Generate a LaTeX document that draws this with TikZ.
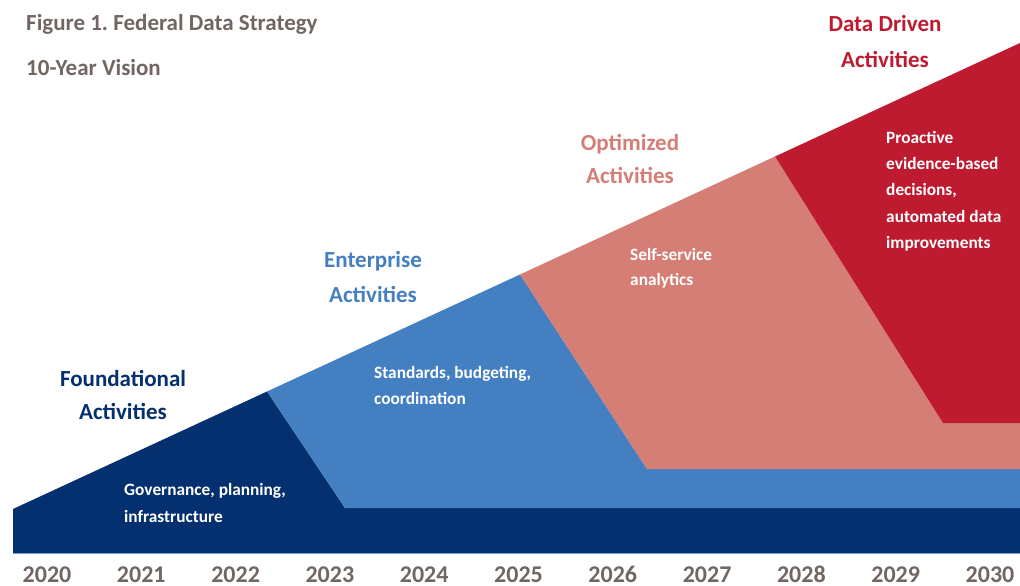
\documentclass[tikz,border=0pt]{standalone}
\usepackage{fontspec}
\setmainfont{Carlito}
\frenchspacing
\definecolor{navy}{HTML}{05306F}
\definecolor{midblue}{HTML}{4480C1}
\definecolor{salmon}{HTML}{D57E75}
\definecolor{crimson}{HTML}{BE1A30}
\definecolor{greytext}{HTML}{716661}
\definecolor{edgeblue}{HTML}{7E9CC8}
\tikzset{
  band/.style={draw=none},
  heading/.style={font=\fontsize{23}{23}\selectfont\bfseries, anchor=base, inner sep=0pt},
  body/.style={font=\fontsize{17.3}{17.3}\selectfont\bfseries, text=white, anchor=base west, inner sep=0pt},
  year/.style={font=\fontsize{24}{24}\selectfont\bfseries, text=greytext, anchor=base, inner sep=0pt},
  title/.style={font=\fontsize{23}{23}\selectfont\bfseries, text=greytext, anchor=base west, inner sep=0pt}
}
\begin{document}
\begin{tikzpicture}[x=1pt,y=-1pt]
\useasboundingbox (0,0) rectangle (1020,586);
\fill[white] (0,0) rectangle (1020,586);
% key points
\coordinate (A) at (13,509);
\coordinate (P1) at (267,391.5);
\coordinate (P2) at (520,274.5);
\coordinate (P3) at (775,156.5);
\coordinate (P4) at (1020,43);
\coordinate (N1) at (345,508);
\coordinate (N2) at (1020,508);
\coordinate (N3) at (1020,553);
\coordinate (N4) at (13,553);
\coordinate (B1) at (647,469);
\coordinate (B2) at (1020,469);
\coordinate (S1) at (943,423);
\coordinate (S2) at (1020,423);
% bands
\fill[band, navy] (A) -- (P1) -- (N1) -- (N2) -- (N3) -- (N4) -- cycle;
\fill[band, midblue] (P1) -- (P2) -- (B1) -- (B2) -- (N2) -- (N1) -- cycle;
\fill[band, salmon] (P2) -- (P3) -- (S1) -- (S2) -- (B2) -- (B1) -- cycle;
\fill[band, crimson] (P3) -- (P4) -- (S2) -- (S1) -- cycle;
\draw[edgeblue, line width=1pt] (N4) -- (N3);
% title
\node[title] (t1) at (26,31) {Figure 1. Federal Data Strategy};
\node[title] (t2) at (26,75) {10-Year Vision};
% headings
\node[heading, text=navy] (h1a) at (123,386) {Foundational};
\node[heading, text=navy] (h1b) at (123,419) {Activities};
\node[heading, text=midblue] (h2a) at (373,267) {Enterprise};
\node[heading, text=midblue] (h2b) at (373,302) {Activities};
\node[heading, text=salmon] (h3a) at (630,150) {Optimized};
\node[heading, text=salmon] (h3b) at (630,183) {Activities};
\node[heading, text=crimson] (h4a) at (885,32) {Data Driven};
\node[heading, text=crimson] (h4b) at (885,67) {Activities};
% body texts
\node[body] (g1) at (124,495) {Governance, planning,};
\node[body] (g2) at (124,522) {infrastructure};
\node[body] (s1) at (374,378) {Standards, budgeting,};
\node[body] (s2) at (374,404) {coordination};
\node[body] (o1) at (630,260) {Self-service};
\node[body] (o2) at (630,285) {analytics};
\node[body] (d1) at (886,143) {Proactive};
\node[body] (d2) at (886,169) {evidence-based};
\node[body] (d3) at (886,195) {decisions,};
\node[body] (d4) at (886,222) {automated data};
\node[body] (d5) at (886,248) {improvements};
% years
\foreach \yr [count=\i from 0] in {2020,2021,2022,2023,2024,2025,2026,2027,2028,2029,2030}{
  \node[year] (y\yr) at (47+94.3*\i,582) {\yr};
}
\end{tikzpicture}
\end{document}
